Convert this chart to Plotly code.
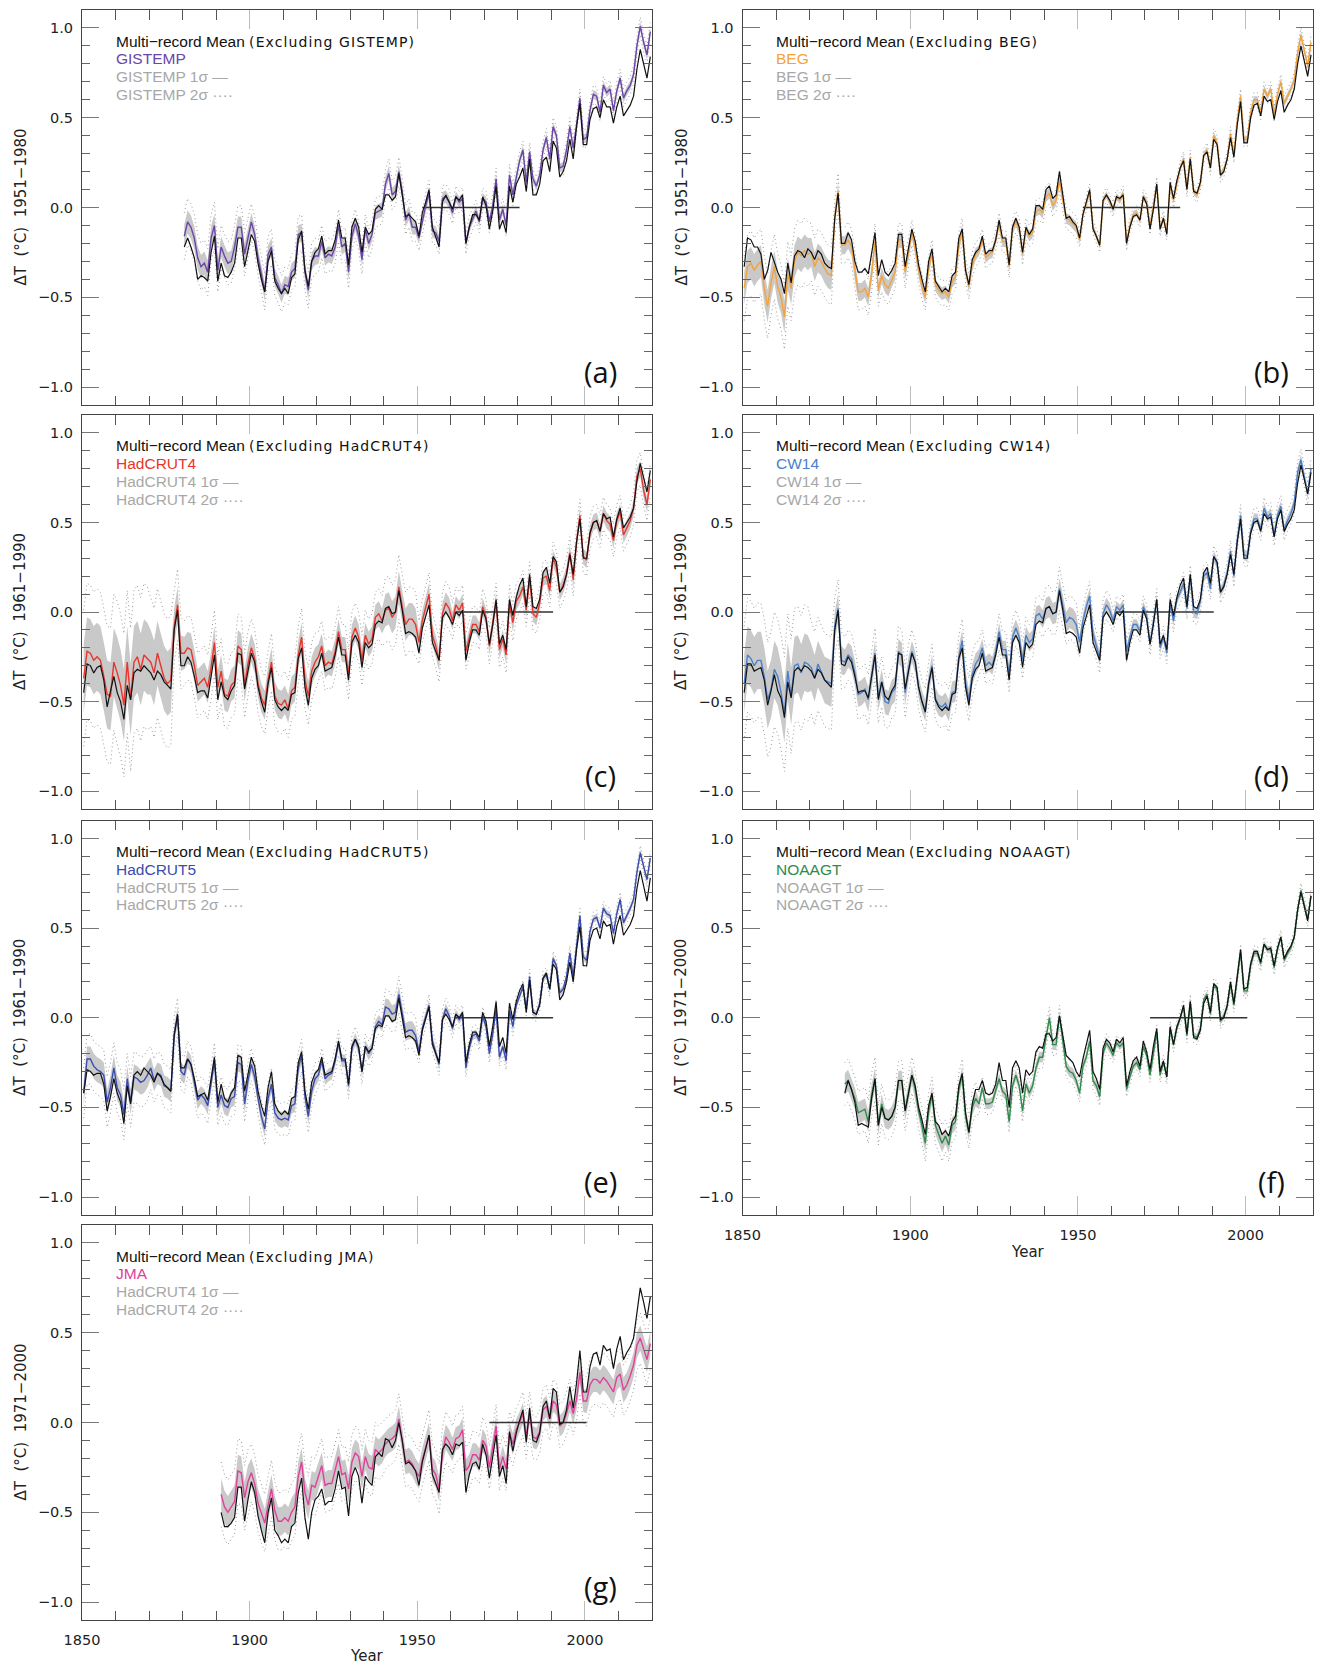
import numpy as np
import plotly.graph_objects as go

# ---------------------------------------------------------------- data
# (a) GISTEMP, 1880-2019, anomaly w.r.t. 1951-1980
GISTEMP = [
    -0.16, -0.08, -0.11, -0.17, -0.28, -0.33, -0.31, -0.36, -0.17, -0.10,
    -0.35, -0.22, -0.27, -0.31, -0.30, -0.22, -0.11, -0.11, -0.26, -0.17,
    -0.08, -0.15, -0.28, -0.37, -0.47, -0.26, -0.22, -0.39, -0.43, -0.48,
    -0.43, -0.44, -0.36, -0.34, -0.15, -0.14, -0.36, -0.46, -0.30, -0.27,
    -0.27, -0.19, -0.28, -0.26, -0.27, -0.22, -0.10, -0.22, -0.20, -0.36,
    -0.16, -0.09, -0.16, -0.29, -0.12, -0.20, -0.15, -0.03, -0.02, -0.01,
    0.13, 0.19, 0.07, 0.09, 0.20, 0.09, -0.07, -0.03, -0.11, -0.11,
    -0.17, -0.07, 0.01, 0.08, -0.13, -0.14, -0.19, 0.05, 0.06, 0.03,
    -0.03, 0.06, 0.03, 0.05, -0.20, -0.11, -0.06, -0.02, -0.08, 0.05,
    0.03, -0.08, 0.01, 0.16, -0.07, -0.01, -0.10, 0.18, 0.07, 0.16,
    0.26, 0.32, 0.14, 0.31, 0.16, 0.12, 0.18, 0.32, 0.39, 0.27,
    0.45, 0.40, 0.22, 0.23, 0.32, 0.45, 0.33, 0.46, 0.61, 0.38,
    0.39, 0.54, 0.63, 0.62, 0.53, 0.68, 0.64, 0.66, 0.54, 0.65,
    0.72, 0.61, 0.65, 0.68, 0.74, 0.90, 1.01, 0.92, 0.85, 0.98]
MEAN_A = [
    -0.22, -0.17, -0.22, -0.28, -0.40, -0.38, -0.39, -0.41, -0.25, -0.16,
    -0.41, -0.31, -0.38, -0.39, -0.36, -0.31, -0.17, -0.17, -0.33, -0.24,
    -0.15, -0.19, -0.31, -0.40, -0.47, -0.30, -0.24, -0.41, -0.45, -0.48,
    -0.45, -0.48, -0.39, -0.37, -0.18, -0.13, -0.35, -0.44, -0.30, -0.25,
    -0.23, -0.16, -0.26, -0.24, -0.24, -0.18, -0.07, -0.17, -0.17, -0.32,
    -0.11, -0.06, -0.11, -0.25, -0.11, -0.15, -0.13, -0.01, 0.01, -0.01,
    0.07, 0.07, 0.04, 0.06, 0.19, 0.07, -0.05, -0.04, -0.06, -0.08,
    -0.16, -0.03, 0.03, 0.10, -0.11, -0.17, -0.22, 0.03, 0.07, 0.03,
    -0.01, 0.06, 0.04, 0.07, -0.20, -0.11, -0.04, -0.04, -0.07, 0.06,
    0.01, -0.12, -0.02, 0.12, -0.12, -0.07, -0.14, 0.12, 0.03, 0.13,
    0.17, 0.22, 0.09, 0.27, 0.07, 0.07, 0.13, 0.26, 0.28, 0.20,
    0.37, 0.33, 0.17, 0.20, 0.26, 0.38, 0.27, 0.45, 0.58, 0.35,
    0.35, 0.49, 0.55, 0.56, 0.50, 0.60, 0.56, 0.56, 0.47, 0.56,
    0.62, 0.51, 0.54, 0.57, 0.62, 0.77, 0.88, 0.80, 0.72, 0.84]
SIG_A = [
    0.065, 0.065, 0.065, 0.065, 0.065, 0.065, 0.065, 0.065, 0.065, 0.065,
    0.06, 0.06, 0.06, 0.06, 0.06, 0.06, 0.06, 0.06, 0.06, 0.06,
    0.05, 0.05, 0.05, 0.05, 0.05, 0.05, 0.05, 0.05, 0.05, 0.05,
    0.05, 0.05, 0.05, 0.05, 0.05, 0.05, 0.05, 0.05, 0.05, 0.05,
    0.045, 0.045, 0.045, 0.045, 0.045, 0.045, 0.045, 0.045, 0.045, 0.045,
    0.04, 0.04, 0.04, 0.04, 0.04, 0.04, 0.04, 0.04, 0.04, 0.04,
    0.04, 0.04, 0.04, 0.04, 0.04, 0.04, 0.04, 0.04, 0.04, 0.04,
    0.035, 0.035, 0.035, 0.035, 0.035, 0.035, 0.035, 0.035, 0.035, 0.035,
    0.03, 0.03, 0.03, 0.03, 0.03, 0.03, 0.03, 0.03, 0.03, 0.03,
    0.03, 0.03, 0.03, 0.03, 0.03, 0.03, 0.03, 0.03, 0.03, 0.03,
    0.025, 0.025, 0.025, 0.025, 0.025, 0.025, 0.025, 0.025, 0.025, 0.025,
    0.025, 0.025, 0.025, 0.025, 0.025, 0.025, 0.025, 0.025, 0.025, 0.025,
    0.025, 0.025, 0.025, 0.025, 0.025, 0.025, 0.025, 0.025, 0.025, 0.025,
    0.025, 0.025, 0.025, 0.025, 0.025, 0.025, 0.025, 0.025, 0.025, 0.025]

# (b) BEG, 1850-2019, w.r.t. 1951-1980
BEG = [
    -0.45, -0.33, -0.31, -0.35, -0.32, -0.30, -0.45, -0.55, -0.42, -0.33,
    -0.44, -0.50, -0.61, -0.37, -0.45, -0.30, -0.25, -0.27, -0.24, -0.26,
    -0.25, -0.33, -0.28, -0.30, -0.34, -0.37, -0.38, -0.06, 0.09, -0.21,
    -0.21, -0.18, -0.22, -0.36, -0.47, -0.47, -0.45, -0.50, -0.37, -0.19,
    -0.46, -0.38, -0.43, -0.45, -0.40, -0.36, -0.18, -0.18, -0.36, -0.25,
    -0.14, -0.23, -0.35, -0.44, -0.50, -0.34, -0.25, -0.43, -0.46, -0.48,
    -0.47, -0.50, -0.41, -0.39, -0.21, -0.13, -0.35, -0.44, -0.32, -0.26,
    -0.24, -0.18, -0.28, -0.26, -0.25, -0.18, -0.09, -0.19, -0.19, -0.33,
    -0.12, -0.08, -0.12, -0.26, -0.12, -0.16, -0.14, -0.02, -0.01, -0.03,
    0.06, 0.08, 0.01, 0.04, 0.15, 0.04, -0.06, -0.07, -0.09, -0.11,
    -0.18, -0.04, 0.02, 0.09, -0.11, -0.16, -0.21, 0.04, 0.07, 0.03,
    -0.01, 0.06, 0.04, 0.08, -0.20, -0.10, -0.04, -0.03, -0.07, 0.06,
    0.03, -0.11, 0.00, 0.13, -0.12, -0.06, -0.14, 0.13, 0.04, 0.14,
    0.22, 0.27, 0.10, 0.28, 0.09, 0.07, 0.13, 0.29, 0.32, 0.22,
    0.40, 0.36, 0.18, 0.21, 0.27, 0.41, 0.29, 0.48, 0.62, 0.38,
    0.38, 0.53, 0.60, 0.60, 0.53, 0.66, 0.62, 0.66, 0.52, 0.63,
    0.70, 0.58, 0.62, 0.66, 0.71, 0.86, 0.96, 0.88, 0.79, 0.92]
MEAN_B = [
    -0.33, -0.17, -0.18, -0.22, -0.22, -0.26, -0.40, -0.35, -0.25, -0.31,
    -0.36, -0.40, -0.48, -0.31, -0.42, -0.27, -0.24, -0.25, -0.28, -0.23,
    -0.25, -0.29, -0.24, -0.26, -0.31, -0.33, -0.34, -0.06, 0.08, -0.20,
    -0.20, -0.14, -0.18, -0.30, -0.36, -0.36, -0.34, -0.37, -0.25, -0.14,
    -0.38, -0.29, -0.36, -0.38, -0.35, -0.31, -0.15, -0.15, -0.33, -0.23,
    -0.12, -0.19, -0.32, -0.40, -0.47, -0.30, -0.23, -0.41, -0.44, -0.47,
    -0.45, -0.47, -0.38, -0.36, -0.17, -0.12, -0.35, -0.43, -0.29, -0.25,
    -0.23, -0.16, -0.26, -0.24, -0.24, -0.18, -0.07, -0.17, -0.17, -0.32,
    -0.11, -0.06, -0.11, -0.25, -0.11, -0.15, -0.12, 0.01, 0.01, -0.01,
    0.10, 0.12, 0.05, 0.07, 0.20, 0.07, -0.06, -0.05, -0.08, -0.10,
    -0.17, -0.04, 0.03, 0.10, -0.12, -0.16, -0.21, 0.04, 0.07, 0.04,
    -0.01, 0.06, 0.05, 0.07, -0.20, -0.11, -0.05, -0.04, -0.07, 0.06,
    0.02, -0.12, -0.01, 0.13, -0.12, -0.06, -0.15, 0.14, 0.05, 0.15,
    0.22, 0.26, 0.10, 0.27, 0.09, 0.08, 0.14, 0.29, 0.31, 0.22,
    0.38, 0.35, 0.18, 0.20, 0.27, 0.39, 0.28, 0.46, 0.59, 0.36,
    0.36, 0.50, 0.57, 0.58, 0.51, 0.62, 0.59, 0.60, 0.49, 0.59,
    0.65, 0.53, 0.57, 0.60, 0.66, 0.80, 0.90, 0.82, 0.73, 0.85]
SIG_B = [
    0.09, 0.09, 0.09, 0.09, 0.09, 0.09, 0.09, 0.09, 0.09, 0.09,
    0.09, 0.09, 0.09, 0.09, 0.09, 0.09, 0.09, 0.09, 0.09, 0.09,
    0.08, 0.08, 0.08, 0.08, 0.08, 0.08, 0.08, 0.05, 0.05, 0.05,
    0.05, 0.05, 0.05, 0.05, 0.05, 0.05, 0.05, 0.05, 0.05, 0.05,
    0.045, 0.045, 0.045, 0.045, 0.045, 0.045, 0.045, 0.045, 0.045, 0.045,
    0.035, 0.035, 0.035, 0.035, 0.035, 0.035, 0.035, 0.035, 0.035, 0.035,
    0.035, 0.035, 0.035, 0.035, 0.035, 0.035, 0.035, 0.035, 0.035, 0.035,
    0.03, 0.03, 0.03, 0.03, 0.03, 0.03, 0.03, 0.03, 0.03, 0.03,
    0.03, 0.03, 0.03, 0.03, 0.03, 0.03, 0.03, 0.03, 0.03, 0.03,
    0.03, 0.03, 0.03, 0.03, 0.03, 0.03, 0.03, 0.03, 0.03, 0.03,
    0.02, 0.02, 0.02, 0.02, 0.02, 0.02, 0.02, 0.02, 0.02, 0.02,
    0.02, 0.02, 0.02, 0.02, 0.02, 0.02, 0.02, 0.02, 0.02, 0.02,
    0.02, 0.02, 0.02, 0.02, 0.02, 0.02, 0.02, 0.02, 0.02, 0.02,
    0.02, 0.02, 0.02, 0.02, 0.02, 0.02, 0.02, 0.02, 0.02, 0.02,
    0.02, 0.02, 0.02, 0.02, 0.02, 0.02, 0.02, 0.02, 0.02, 0.02,
    0.02, 0.02, 0.02, 0.02, 0.02, 0.02, 0.02, 0.02, 0.02, 0.02,
    0.02, 0.02, 0.02, 0.02, 0.02, 0.02, 0.02, 0.02, 0.02, 0.02]

# (c) HadCRUT4, 1850-2019, w.r.t. 1961-1990
HADCRUT4 = [
    -0.37, -0.22, -0.23, -0.27, -0.25, -0.27, -0.36, -0.46, -0.47, -0.28,
    -0.34, -0.41, -0.52, -0.28, -0.49, -0.28, -0.25, -0.32, -0.24, -0.26,
    -0.28, -0.34, -0.23, -0.30, -0.37, -0.40, -0.38, -0.08, 0.04, -0.23,
    -0.23, -0.20, -0.21, -0.30, -0.41, -0.39, -0.37, -0.42, -0.31, -0.17,
    -0.42, -0.33, -0.46, -0.47, -0.41, -0.39, -0.19, -0.21, -0.41, -0.29,
    -0.20, -0.26, -0.40, -0.48, -0.52, -0.38, -0.28, -0.47, -0.51, -0.52,
    -0.49, -0.54, -0.44, -0.42, -0.24, -0.14, -0.38, -0.47, -0.33, -0.28,
    -0.25, -0.19, -0.30, -0.28, -0.29, -0.22, -0.11, -0.21, -0.21, -0.35,
    -0.14, -0.09, -0.14, -0.27, -0.13, -0.18, -0.15, -0.03, -0.01, -0.05,
    0.01, 0.02, -0.03, 0.00, 0.14, 0.03, -0.07, -0.04, -0.04, -0.07,
    -0.17, -0.05, 0.03, 0.10, -0.13, -0.19, -0.27, -0.01, 0.05, 0.02,
    -0.05, 0.04, 0.01, 0.05, -0.22, -0.14, -0.07, -0.07, -0.11, 0.03,
    -0.03, -0.19, -0.07, 0.06, -0.21, -0.15, -0.24, 0.05, -0.06, 0.06,
    0.09, 0.14, 0.01, 0.19, -0.01, -0.03, 0.05, 0.19, 0.20, 0.12,
    0.30, 0.25, 0.11, 0.15, 0.21, 0.33, 0.18, 0.39, 0.54, 0.31,
    0.29, 0.44, 0.50, 0.51, 0.45, 0.55, 0.51, 0.49, 0.40, 0.51,
    0.56, 0.43, 0.47, 0.51, 0.58, 0.76, 0.80, 0.68, 0.60, 0.74]
MEAN_C = [
    -0.45, -0.29, -0.30, -0.34, -0.31, -0.30, -0.38, -0.53, -0.44, -0.36,
    -0.45, -0.50, -0.60, -0.41, -0.49, -0.34, -0.32, -0.33, -0.30, -0.32,
    -0.34, -0.38, -0.33, -0.35, -0.39, -0.41, -0.43, -0.10, 0.01, -0.30,
    -0.30, -0.25, -0.28, -0.36, -0.45, -0.44, -0.44, -0.48, -0.36, -0.24,
    -0.49, -0.39, -0.47, -0.49, -0.44, -0.41, -0.23, -0.24, -0.43, -0.33,
    -0.23, -0.28, -0.42, -0.50, -0.56, -0.40, -0.31, -0.49, -0.53, -0.55,
    -0.53, -0.55, -0.46, -0.45, -0.26, -0.20, -0.42, -0.52, -0.37, -0.32,
    -0.30, -0.23, -0.33, -0.32, -0.31, -0.24, -0.14, -0.24, -0.24, -0.38,
    -0.17, -0.13, -0.17, -0.31, -0.17, -0.20, -0.18, -0.07, -0.05, -0.06,
    0.02, 0.03, -0.01, 0.00, 0.12, 0.01, -0.12, -0.11, -0.12, -0.14,
    -0.23, -0.09, -0.03, 0.04, -0.17, -0.22, -0.27, -0.03, 0.00, -0.03,
    -0.07, 0.00, -0.02, 0.01, -0.27, -0.17, -0.10, -0.10, -0.13, 0.01,
    -0.04, -0.18, -0.07, 0.07, -0.18, -0.13, -0.21, 0.07, -0.02, 0.08,
    0.15, 0.19, 0.03, 0.21, 0.03, 0.02, 0.07, 0.22, 0.25, 0.16,
    0.31, 0.28, 0.11, 0.14, 0.21, 0.32, 0.21, 0.39, 0.52, 0.30,
    0.30, 0.44, 0.50, 0.51, 0.45, 0.55, 0.52, 0.53, 0.42, 0.52,
    0.58, 0.47, 0.50, 0.53, 0.58, 0.73, 0.83, 0.75, 0.67, 0.79]
SIG_C = [
    0.19, 0.19, 0.19, 0.19, 0.19, 0.19, 0.19, 0.19, 0.19, 0.19,
    0.20, 0.20, 0.20, 0.20, 0.20, 0.20, 0.20, 0.20, 0.20, 0.20,
    0.18, 0.18, 0.18, 0.18, 0.18, 0.18, 0.18, 0.10, 0.10, 0.10,
    0.09, 0.09, 0.09, 0.09, 0.09, 0.09, 0.09, 0.09, 0.09, 0.09,
    0.09, 0.09, 0.09, 0.09, 0.09, 0.09, 0.09, 0.09, 0.09, 0.09,
    0.08, 0.08, 0.08, 0.08, 0.08, 0.08, 0.08, 0.08, 0.08, 0.08,
    0.08, 0.08, 0.08, 0.08, 0.08, 0.08, 0.08, 0.08, 0.08, 0.08,
    0.07, 0.07, 0.07, 0.07, 0.07, 0.07, 0.07, 0.07, 0.07, 0.07,
    0.07, 0.07, 0.07, 0.07, 0.07, 0.07, 0.07, 0.07, 0.07, 0.07,
    0.09, 0.09, 0.09, 0.09, 0.09, 0.09, 0.09, 0.09, 0.09, 0.09,
    0.06, 0.06, 0.06, 0.06, 0.06, 0.06, 0.06, 0.06, 0.06, 0.06,
    0.05, 0.05, 0.05, 0.05, 0.05, 0.05, 0.05, 0.05, 0.05, 0.05,
    0.05, 0.05, 0.05, 0.05, 0.05, 0.05, 0.05, 0.05, 0.05, 0.05,
    0.045, 0.045, 0.045, 0.045, 0.045, 0.045, 0.045, 0.045, 0.045, 0.045,
    0.045, 0.045, 0.045, 0.045, 0.045, 0.045, 0.045, 0.045, 0.045, 0.045,
    0.045, 0.045, 0.045, 0.045, 0.045, 0.045, 0.045, 0.045, 0.045, 0.045,
    0.045, 0.045, 0.045, 0.045, 0.045, 0.045, 0.045, 0.045, 0.045, 0.045]

# (d) CW14, 1850-2019, w.r.t. 1961-1990
CW14 = [
    -0.40, -0.24, -0.26, -0.30, -0.27, -0.27, -0.36, -0.49, -0.43, -0.32,
    -0.36, -0.45, -0.57, -0.33, -0.47, -0.30, -0.29, -0.34, -0.28, -0.29,
    -0.31, -0.37, -0.29, -0.33, -0.38, -0.39, -0.40, -0.08, 0.02, -0.27,
    -0.28, -0.24, -0.26, -0.34, -0.46, -0.45, -0.43, -0.49, -0.37, -0.23,
    -0.48, -0.39, -0.50, -0.51, -0.45, -0.43, -0.22, -0.24, -0.45, -0.32,
    -0.22, -0.28, -0.42, -0.50, -0.55, -0.40, -0.30, -0.48, -0.52, -0.53,
    -0.51, -0.55, -0.45, -0.44, -0.25, -0.16, -0.39, -0.49, -0.35, -0.29,
    -0.26, -0.20, -0.30, -0.28, -0.30, -0.22, -0.11, -0.21, -0.21, -0.35,
    -0.14, -0.09, -0.14, -0.27, -0.13, -0.17, -0.15, -0.02, -0.01, -0.04,
    0.02, 0.03, -0.01, 0.00, 0.13, 0.03, -0.06, -0.03, -0.04, -0.07,
    -0.17, -0.05, 0.03, 0.09, -0.12, -0.19, -0.26, -0.01, 0.04, 0.01,
    -0.05, 0.03, 0.01, 0.04, -0.22, -0.14, -0.07, -0.07, -0.11, 0.03,
    -0.02, -0.18, -0.06, 0.07, -0.20, -0.14, -0.23, 0.05, -0.05, 0.07,
    0.11, 0.16, 0.02, 0.20, 0.00, -0.01, 0.06, 0.20, 0.22, 0.13,
    0.31, 0.27, 0.11, 0.15, 0.22, 0.34, 0.20, 0.40, 0.54, 0.32,
    0.31, 0.45, 0.52, 0.52, 0.46, 0.58, 0.53, 0.55, 0.43, 0.54,
    0.59, 0.46, 0.51, 0.55, 0.61, 0.78, 0.85, 0.75, 0.66, 0.80]
MEAN_D = [
    -0.45, -0.29, -0.29, -0.33, -0.32, -0.31, -0.38, -0.52, -0.44, -0.35,
    -0.44, -0.48, -0.59, -0.39, -0.48, -0.33, -0.31, -0.33, -0.30, -0.31,
    -0.33, -0.37, -0.32, -0.34, -0.38, -0.40, -0.42, -0.10, 0.01, -0.29,
    -0.30, -0.25, -0.28, -0.36, -0.45, -0.44, -0.44, -0.48, -0.36, -0.24,
    -0.49, -0.39, -0.47, -0.49, -0.44, -0.41, -0.23, -0.24, -0.43, -0.33,
    -0.23, -0.28, -0.42, -0.50, -0.56, -0.40, -0.31, -0.49, -0.53, -0.55,
    -0.53, -0.55, -0.46, -0.45, -0.26, -0.20, -0.42, -0.52, -0.37, -0.32,
    -0.30, -0.23, -0.33, -0.32, -0.31, -0.24, -0.14, -0.24, -0.24, -0.38,
    -0.17, -0.13, -0.17, -0.31, -0.17, -0.20, -0.18, -0.07, -0.05, -0.06,
    0.02, 0.03, -0.01, 0.00, 0.12, 0.01, -0.12, -0.11, -0.12, -0.14,
    -0.23, -0.09, -0.03, 0.04, -0.17, -0.22, -0.27, -0.03, 0.00, -0.03,
    -0.07, 0.00, -0.02, 0.01, -0.27, -0.17, -0.10, -0.10, -0.13, 0.01,
    -0.04, -0.18, -0.07, 0.07, -0.18, -0.13, -0.21, 0.07, -0.02, 0.08,
    0.15, 0.19, 0.03, 0.21, 0.03, 0.02, 0.07, 0.22, 0.25, 0.16,
    0.31, 0.28, 0.11, 0.14, 0.21, 0.32, 0.21, 0.39, 0.52, 0.30,
    0.30, 0.44, 0.50, 0.51, 0.45, 0.55, 0.52, 0.53, 0.42, 0.52,
    0.57, 0.45, 0.49, 0.52, 0.57, 0.72, 0.82, 0.74, 0.66, 0.78]
SIG_D = [
    0.16, 0.16, 0.16, 0.16, 0.16, 0.16, 0.16, 0.16, 0.16, 0.16,
    0.16, 0.16, 0.16, 0.16, 0.16, 0.16, 0.16, 0.16, 0.16, 0.16,
    0.13, 0.13, 0.13, 0.13, 0.13, 0.13, 0.13, 0.08, 0.08, 0.08,
    0.07, 0.07, 0.07, 0.07, 0.07, 0.07, 0.07, 0.07, 0.07, 0.07,
    0.07, 0.07, 0.07, 0.07, 0.07, 0.07, 0.07, 0.07, 0.07, 0.07,
    0.06, 0.06, 0.06, 0.06, 0.06, 0.06, 0.06, 0.06, 0.06, 0.06,
    0.06, 0.06, 0.06, 0.06, 0.06, 0.06, 0.06, 0.06, 0.06, 0.06,
    0.05, 0.05, 0.05, 0.05, 0.05, 0.05, 0.05, 0.05, 0.05, 0.05,
    0.05, 0.05, 0.05, 0.05, 0.05, 0.05, 0.05, 0.05, 0.05, 0.05,
    0.06, 0.06, 0.06, 0.06, 0.06, 0.06, 0.06, 0.06, 0.06, 0.06,
    0.04, 0.04, 0.04, 0.04, 0.04, 0.04, 0.04, 0.04, 0.04, 0.04,
    0.03, 0.03, 0.03, 0.03, 0.03, 0.03, 0.03, 0.03, 0.03, 0.03,
    0.03, 0.03, 0.03, 0.03, 0.03, 0.03, 0.03, 0.03, 0.03, 0.03,
    0.03, 0.03, 0.03, 0.03, 0.03, 0.03, 0.03, 0.03, 0.03, 0.03,
    0.03, 0.03, 0.03, 0.03, 0.03, 0.03, 0.03, 0.03, 0.03, 0.03,
    0.03, 0.03, 0.03, 0.03, 0.03, 0.03, 0.03, 0.03, 0.03, 0.03,
    0.03, 0.03, 0.03, 0.03, 0.03, 0.03, 0.03, 0.03, 0.03, 0.03]

# (e) HadCRUT5, 1850-2019, w.r.t. 1961-1990
HADCRUT5 = [
    -0.42, -0.23, -0.23, -0.27, -0.29, -0.30, -0.32, -0.47, -0.39, -0.28,
    -0.39, -0.43, -0.54, -0.34, -0.47, -0.33, -0.34, -0.36, -0.35, -0.32,
    -0.28, -0.35, -0.31, -0.32, -0.38, -0.39, -0.41, -0.09, 0.01, -0.30,
    -0.32, -0.23, -0.26, -0.37, -0.46, -0.43, -0.45, -0.49, -0.36, -0.24,
    -0.50, -0.43, -0.49, -0.50, -0.45, -0.44, -0.25, -0.26, -0.48, -0.35,
    -0.26, -0.33, -0.45, -0.55, -0.62, -0.45, -0.37, -0.53, -0.56, -0.57,
    -0.56, -0.57, -0.49, -0.48, -0.28, -0.21, -0.44, -0.55, -0.41, -0.34,
    -0.32, -0.24, -0.34, -0.32, -0.31, -0.24, -0.14, -0.24, -0.24, -0.38,
    -0.17, -0.12, -0.17, -0.30, -0.16, -0.20, -0.17, -0.05, -0.02, -0.04,
    0.06, 0.05, 0.02, 0.03, 0.13, 0.02, -0.08, -0.07, -0.07, -0.10,
    -0.19, -0.06, 0.01, 0.07, -0.13, -0.20, -0.26, -0.01, 0.05, 0.01,
    -0.06, 0.02, -0.01, 0.02, -0.28, -0.17, -0.10, -0.09, -0.13, 0.01,
    -0.05, -0.20, -0.09, 0.05, -0.22, -0.16, -0.24, 0.04, -0.05, 0.07,
    0.12, 0.17, 0.05, 0.23, 0.03, 0.02, 0.08, 0.22, 0.24, 0.16,
    0.33, 0.29, 0.14, 0.16, 0.23, 0.36, 0.23, 0.42, 0.57, 0.34,
    0.32, 0.48, 0.55, 0.56, 0.50, 0.61, 0.58, 0.57, 0.47, 0.58,
    0.66, 0.53, 0.57, 0.61, 0.66, 0.81, 0.92, 0.84, 0.77, 0.89]
MEAN_E = [
    -0.42, -0.29, -0.30, -0.32, -0.31, -0.31, -0.37, -0.52, -0.44, -0.34,
    -0.42, -0.47, -0.59, -0.38, -0.48, -0.32, -0.30, -0.32, -0.28, -0.30,
    -0.32, -0.36, -0.31, -0.33, -0.37, -0.39, -0.41, -0.10, 0.02, -0.28,
    -0.28, -0.23, -0.26, -0.34, -0.44, -0.43, -0.42, -0.46, -0.34, -0.22,
    -0.47, -0.37, -0.45, -0.47, -0.42, -0.39, -0.21, -0.22, -0.41, -0.31,
    -0.22, -0.27, -0.41, -0.49, -0.55, -0.39, -0.30, -0.48, -0.52, -0.54,
    -0.52, -0.54, -0.45, -0.44, -0.25, -0.19, -0.41, -0.51, -0.36, -0.31,
    -0.29, -0.22, -0.32, -0.31, -0.30, -0.23, -0.13, -0.23, -0.23, -0.37,
    -0.16, -0.12, -0.16, -0.30, -0.16, -0.19, -0.17, -0.06, -0.04, -0.05,
    0.01, 0.01, -0.02, -0.01, 0.11, 0.00, -0.11, -0.10, -0.11, -0.13,
    -0.21, -0.07, -0.01, 0.06, -0.15, -0.20, -0.25, -0.01, 0.02, -0.01,
    -0.05, 0.02, 0.00, 0.03, -0.25, -0.15, -0.08, -0.08, -0.11, 0.03,
    -0.02, -0.16, -0.05, 0.09, -0.16, -0.11, -0.20, 0.08, -0.01, 0.09,
    0.15, 0.19, 0.03, 0.21, 0.03, 0.02, 0.07, 0.22, 0.25, 0.16,
    0.30, 0.27, 0.10, 0.13, 0.20, 0.31, 0.20, 0.38, 0.51, 0.29,
    0.29, 0.43, 0.49, 0.50, 0.44, 0.54, 0.51, 0.52, 0.41, 0.51,
    0.57, 0.46, 0.49, 0.52, 0.57, 0.72, 0.82, 0.74, 0.65, 0.78]
SIG_E = [
    0.07, 0.07, 0.07, 0.07, 0.07, 0.07, 0.07, 0.07, 0.07, 0.07,
    0.07, 0.07, 0.07, 0.07, 0.07, 0.07, 0.07, 0.07, 0.07, 0.07,
    0.06, 0.06, 0.06, 0.06, 0.06, 0.06, 0.06, 0.05, 0.05, 0.05,
    0.05, 0.05, 0.05, 0.05, 0.05, 0.05, 0.05, 0.05, 0.05, 0.05,
    0.05, 0.05, 0.05, 0.05, 0.05, 0.05, 0.05, 0.05, 0.05, 0.05,
    0.045, 0.045, 0.045, 0.045, 0.045, 0.045, 0.045, 0.045, 0.045, 0.045,
    0.045, 0.045, 0.045, 0.045, 0.045, 0.045, 0.045, 0.045, 0.045, 0.045,
    0.035, 0.035, 0.035, 0.035, 0.035, 0.035, 0.035, 0.035, 0.035, 0.035,
    0.035, 0.035, 0.035, 0.035, 0.035, 0.035, 0.035, 0.035, 0.035, 0.035,
    0.05, 0.05, 0.05, 0.05, 0.05, 0.05, 0.05, 0.05, 0.05, 0.05,
    0.03, 0.03, 0.03, 0.03, 0.03, 0.03, 0.03, 0.03, 0.03, 0.03,
    0.025, 0.025, 0.025, 0.025, 0.025, 0.025, 0.025, 0.025, 0.025, 0.025,
    0.025, 0.025, 0.025, 0.025, 0.025, 0.025, 0.025, 0.025, 0.025, 0.025,
    0.02, 0.02, 0.02, 0.02, 0.02, 0.02, 0.02, 0.02, 0.02, 0.02,
    0.02, 0.02, 0.02, 0.02, 0.02, 0.02, 0.02, 0.02, 0.02, 0.02,
    0.02, 0.02, 0.02, 0.02, 0.02, 0.02, 0.02, 0.02, 0.02, 0.02,
    0.02, 0.02, 0.02, 0.02, 0.02, 0.02, 0.02, 0.02, 0.02, 0.02]

# (f) NOAAGT, 1880-2019, w.r.t. 1971-2000
NOAAGT = [
    -0.37, -0.35, -0.40, -0.45, -0.53, -0.52, -0.51, -0.58, -0.43, -0.34,
    -0.60, -0.48, -0.56, -0.57, -0.55, -0.50, -0.35, -0.35, -0.52, -0.42,
    -0.32, -0.40, -0.52, -0.60, -0.70, -0.52, -0.43, -0.60, -0.65, -0.70,
    -0.66, -0.71, -0.60, -0.58, -0.40, -0.32, -0.55, -0.64, -0.50, -0.45,
    -0.48, -0.39, -0.48, -0.48, -0.47, -0.40, -0.34, -0.41, -0.43, -0.58,
    -0.38, -0.32, -0.38, -0.52, -0.37, -0.42, -0.38, -0.28, -0.22, -0.22,
    -0.12, 0.00, -0.15, -0.15, 0.01, -0.13, -0.27, -0.30, -0.31, -0.35,
    -0.42, -0.27, -0.22, -0.13, -0.35, -0.38, -0.44, -0.20, -0.14, -0.17,
    -0.21, -0.14, -0.16, -0.14, -0.40, -0.33, -0.27, -0.25, -0.29, -0.16,
    -0.21, -0.32, -0.21, -0.08, -0.32, -0.25, -0.33, -0.06, -0.15, -0.06,
    0.00, 0.06, -0.10, 0.09, -0.10, -0.11, -0.06, 0.10, 0.13, 0.02,
    0.18, 0.16, -0.02, 0.01, 0.06, 0.19, 0.07, 0.23, 0.37, 0.15,
    0.15, 0.29, 0.36, 0.36, 0.30, 0.41, 0.38, 0.38, 0.28, 0.38,
    0.45, 0.32, 0.36, 0.39, 0.45, 0.60, 0.71, 0.63, 0.55, 0.68]
MEAN_F = [
    -0.42, -0.35, -0.40, -0.47, -0.60, -0.59, -0.60, -0.61, -0.45, -0.34,
    -0.60, -0.50, -0.56, -0.57, -0.55, -0.50, -0.35, -0.35, -0.52, -0.42,
    -0.32, -0.38, -0.50, -0.57, -0.65, -0.49, -0.42, -0.58, -0.60, -0.65,
    -0.63, -0.66, -0.58, -0.55, -0.38, -0.31, -0.53, -0.64, -0.48, -0.40,
    -0.40, -0.35, -0.42, -0.43, -0.42, -0.37, -0.25, -0.35, -0.35, -0.50,
    -0.28, -0.24, -0.28, -0.42, -0.29, -0.32, -0.30, -0.19, -0.16, -0.17,
    -0.09, -0.09, -0.13, -0.11, 0.01, -0.10, -0.21, -0.23, -0.25, -0.30,
    -0.33, -0.23, -0.15, -0.07, -0.30, -0.34, -0.40, -0.17, -0.12, -0.14,
    -0.19, -0.12, -0.14, -0.11, -0.38, -0.30, -0.24, -0.22, -0.27, -0.13,
    -0.19, -0.29, -0.16, -0.06, -0.30, -0.24, -0.33, -0.05, -0.15, -0.05,
    0.00, 0.07, -0.09, 0.09, -0.11, -0.12, -0.07, 0.08, 0.12, 0.03,
    0.19, 0.17, -0.01, 0.00, 0.07, 0.20, 0.08, 0.22, 0.38, 0.16,
    0.17, 0.30, 0.37, 0.37, 0.31, 0.41, 0.38, 0.39, 0.29, 0.39,
    0.45, 0.33, 0.37, 0.40, 0.45, 0.60, 0.70, 0.62, 0.54, 0.68]
SIG_F = [
    0.06, 0.06, 0.06, 0.06, 0.06, 0.06, 0.06, 0.06, 0.06, 0.06,
    0.055, 0.055, 0.055, 0.055, 0.055, 0.055, 0.055, 0.055, 0.055, 0.055,
    0.05, 0.05, 0.05, 0.05, 0.05, 0.05, 0.05, 0.05, 0.05, 0.05,
    0.045, 0.045, 0.045, 0.045, 0.045, 0.045, 0.045, 0.045, 0.045, 0.045,
    0.03, 0.03, 0.03, 0.03, 0.03, 0.03, 0.03, 0.03, 0.03, 0.03,
    0.03, 0.03, 0.03, 0.03, 0.03, 0.03, 0.03, 0.03, 0.03, 0.03,
    0.03, 0.03, 0.03, 0.03, 0.03, 0.03, 0.03, 0.03, 0.03, 0.03,
    0.025, 0.025, 0.025, 0.025, 0.025, 0.025, 0.025, 0.025, 0.025, 0.025,
    0.02, 0.02, 0.02, 0.02, 0.02, 0.02, 0.02, 0.02, 0.02, 0.02,
    0.02, 0.02, 0.02, 0.02, 0.02, 0.02, 0.02, 0.02, 0.02, 0.02,
    0.02, 0.02, 0.02, 0.02, 0.02, 0.02, 0.02, 0.02, 0.02, 0.02,
    0.02, 0.02, 0.02, 0.02, 0.02, 0.02, 0.02, 0.02, 0.02, 0.02,
    0.02, 0.02, 0.02, 0.02, 0.02, 0.02, 0.02, 0.02, 0.02, 0.02,
    0.02, 0.02, 0.02, 0.02, 0.02, 0.02, 0.02, 0.02, 0.02, 0.02]

# (g) JMA, 1891-2019, w.r.t. 1971-2000
JMA = [
    -0.40, -0.47, -0.50, -0.47, -0.44, -0.27, -0.28, -0.42, -0.33,
    -0.28, -0.34, -0.45, -0.51, -0.56, -0.46, -0.37, -0.49, -0.55, -0.55,
    -0.53, -0.55, -0.50, -0.47, -0.30, -0.22, -0.39, -0.46, -0.35, -0.36,
    -0.30, -0.24, -0.35, -0.34, -0.34, -0.27, -0.19, -0.29, -0.28, -0.37,
    -0.22, -0.17, -0.19, -0.30, -0.19, -0.25, -0.26, -0.15, -0.17, -0.15,
    -0.12, -0.10, -0.09, -0.07, 0.02, -0.10, -0.22, -0.21, -0.23, -0.27,
    -0.30, -0.21, -0.14, -0.07, -0.26, -0.29, -0.37, -0.17, -0.08, -0.11,
    -0.15, -0.09, -0.08, -0.04, -0.27, -0.24, -0.18, -0.18, -0.21, -0.10,
    -0.13, -0.25, -0.14, -0.02, -0.26, -0.19, -0.26, -0.06, -0.12, -0.04,
    0.00, 0.05, -0.08, 0.05, -0.08, -0.09, -0.05, 0.07, 0.09, 0.02,
    0.12, 0.10, -0.02, 0.00, 0.05, 0.12, 0.05, 0.13, 0.28, 0.12,
    0.12, 0.21, 0.24, 0.24, 0.22, 0.25, 0.23, 0.20, 0.17, 0.25,
    0.27, 0.18, 0.21, 0.26, 0.32, 0.43, 0.47, 0.41, 0.35, 0.44]
MEAN_G = [
    -0.50, -0.58, -0.58, -0.56, -0.53, -0.36, -0.36, -0.55, -0.43,
    -0.33, -0.39, -0.52, -0.60, -0.67, -0.50, -0.42, -0.60, -0.63, -0.67,
    -0.65, -0.67, -0.58, -0.56, -0.39, -0.31, -0.53, -0.65, -0.50, -0.43,
    -0.41, -0.37, -0.46, -0.44, -0.44, -0.37, -0.27, -0.37, -0.36, -0.52,
    -0.30, -0.25, -0.30, -0.45, -0.30, -0.33, -0.35, -0.19, -0.17, -0.19,
    -0.09, -0.10, -0.14, -0.10, 0.00, -0.10, -0.23, -0.22, -0.24, -0.27,
    -0.35, -0.22, -0.15, -0.07, -0.29, -0.34, -0.39, -0.15, -0.12, -0.14,
    -0.18, -0.12, -0.13, -0.11, -0.39, -0.29, -0.23, -0.22, -0.26, -0.12,
    -0.18, -0.31, -0.20, -0.07, -0.30, -0.24, -0.34, -0.05, -0.16, -0.06,
    0.01, 0.07, -0.11, 0.08, -0.10, -0.11, -0.06, 0.09, 0.12, 0.02,
    0.19, 0.17, -0.01, 0.00, 0.07, 0.20, 0.08, 0.22, 0.40, 0.17,
    0.17, 0.31, 0.38, 0.39, 0.32, 0.43, 0.40, 0.41, 0.30, 0.41,
    0.48, 0.35, 0.39, 0.42, 0.47, 0.62, 0.75, 0.67, 0.58, 0.70]
SIG_G = [
    0.09, 0.09, 0.09, 0.09, 0.09, 0.09, 0.09, 0.09, 0.09,
    0.08, 0.08, 0.08, 0.08, 0.08, 0.08, 0.08, 0.08, 0.08, 0.08,
    0.08, 0.08, 0.08, 0.08, 0.08, 0.08, 0.08, 0.08, 0.08, 0.08,
    0.075, 0.075, 0.075, 0.075, 0.075, 0.075, 0.075, 0.075, 0.075, 0.075,
    0.075, 0.075, 0.075, 0.075, 0.075, 0.075, 0.075, 0.075, 0.075, 0.075,
    0.07, 0.07, 0.07, 0.07, 0.07, 0.07, 0.07, 0.07, 0.07, 0.07,
    0.07, 0.07, 0.07, 0.07, 0.07, 0.07, 0.07, 0.07, 0.07, 0.07,
    0.065, 0.065, 0.065, 0.065, 0.065, 0.065, 0.065, 0.065, 0.065, 0.065,
    0.06, 0.06, 0.06, 0.06, 0.06, 0.06, 0.06, 0.06, 0.06, 0.06,
    0.06, 0.06, 0.06, 0.06, 0.06, 0.06, 0.06, 0.06, 0.06, 0.06,
    0.06, 0.06, 0.06, 0.06, 0.06, 0.06, 0.06, 0.06, 0.06, 0.06,
    0.07, 0.07, 0.07, 0.07, 0.07, 0.07, 0.07, 0.07, 0.07, 0.07,
    0.07, 0.07, 0.07, 0.07, 0.07, 0.07, 0.07, 0.07, 0.07, 0.07]

# panel meta: key, dataset, colour, first year, values, mean, sigma, baseline, sigma label
PANELS = [
    ("a", "GISTEMP", "#6b45a8", 1880, GISTEMP, MEAN_A, SIG_A, (1951, 1980), "GISTEMP"),
    ("b", "BEG", "#f4a23a", 1850, BEG, MEAN_B, SIG_B, (1951, 1980), "BEG"),
    ("c", "HadCRUT4", "#e8362c", 1850, HADCRUT4, MEAN_C, SIG_C, (1961, 1990), "HadCRUT4"),
    ("d", "CW14", "#4b7fc8", 1850, CW14, MEAN_D, SIG_D, (1961, 1990), "CW14"),
    ("e", "HadCRUT5", "#3a4cb0", 1850, HADCRUT5, MEAN_E, SIG_E, (1961, 1990), "HadCRUT5"),
    ("f", "NOAAGT", "#2e8b4a", 1880, NOAAGT, MEAN_F, SIG_F, (1971, 2000), "NOAAGT"),
    ("g", "JMA", "#e0409a", 1891, JMA, MEAN_G, SIG_G, (1971, 2000), "HadCRUT4"),
]

# ---------------------------------------------------------------- layout geometry
W, H = 1318, 1664
COLS = [(82 / W, 652 / W), (742.5 / W, 1312.7 / W)]
ROWS = [(1 - 405 / H, 1 - 10 / H), (1 - 809 / H, 1 - 415 / H),
        (1 - 1215 / H, 1 - 820.5 / H), (1 - 1620 / H, 1 - 1225 / H)]
POS = {"a": (0, 0), "b": (1, 0), "c": (0, 1), "d": (1, 1), "e": (0, 2), "f": (1, 2), "g": (0, 3)}

TICKFONT = dict(family="DejaVu Sans", size=14.5, color="#222222")
LEGFONT = "Liberation Sans, Arial, sans-serif"
GREY_TXT = "#a8a8a8"

fig = go.Figure()
annotations = []
layout_axes = {}

for i, (key, name, color, y0, vals, mean, sig, base, signame) in enumerate(PANELS, start=1):
    for arr in (vals, mean, sig):
        assert len(arr) == 2020 - y0, (key, len(arr))
    col, row = POS[key]
    xa = "x" if i == 1 else f"x{i}"
    ya = "y" if i == 1 else f"y{i}"
    years = np.arange(y0, 2020) + 0.5
    v = np.array(vals)
    s = np.array(sig)
    m = np.array(mean)

    # 1-sigma band
    fig.add_trace(go.Scatter(
        x=np.concatenate([years, years[::-1]]),
        y=np.concatenate([v + s, (v - s)[::-1]]),
        fill="toself", fillcolor="#c9c9c9", line=dict(width=0),
        mode="lines", hoverinfo="skip", xaxis=xa, yaxis=ya))
    # 2-sigma dotted
    for sgn in (1, -1):
        fig.add_trace(go.Scatter(
            x=years, y=v + sgn * 2 * s, mode="lines",
            line=dict(color="#9a9a9a", width=1, dash="1px,3px"),
            xaxis=xa, yaxis=ya))
    # baseline period
    fig.add_trace(go.Scatter(
        x=[base[0] + 0.5, base[1] + 0.5], y=[0, 0], mode="lines",
        line=dict(color="#333333", width=1.3), xaxis=xa, yaxis=ya))
    # dataset
    fig.add_trace(go.Scatter(
        x=years, y=v, mode="lines", line=dict(color=color, width=1.4),
        xaxis=xa, yaxis=ya))
    # multi-record mean
    fig.add_trace(go.Scatter(
        x=years, y=m, mode="lines", line=dict(color="#111111", width=1.2),
        xaxis=xa, yaxis=ya))

    bottom = key in ("f", "g")
    layout_axes["xaxis" if i == 1 else f"xaxis{i}"] = dict(
        domain=list(COLS[col]), anchor=ya, range=[1850, 2020], automargin=False,
        showline=True, linecolor="#444444", linewidth=1, mirror="allticks",
        ticks="inside", ticklen=19, tickcolor="#bdbdbd", tickwidth=1,
        tick0=1850, dtick=50,
        minor=dict(ticks="inside", dtick=10, tick0=1850, ticklen=9.5,
                   tickcolor="#555555", tickwidth=1),
        showgrid=False, zeroline=False,
        showticklabels=bottom, tickfont=TICKFONT, ticklabelstandoff=7)
    layout_axes["yaxis" if i == 1 else f"yaxis{i}"] = dict(
        domain=list(ROWS[row]), anchor=xa, range=[-1.1, 1.1], automargin=False,
        showline=True, linecolor="#444444", linewidth=1, mirror="allticks",
        ticks="inside", ticklen=17, tickcolor="#777777", tickwidth=1,
        tick0=0, dtick=0.5, tickformat=".1f",
        minor=dict(ticks="inside", dtick=0.1, ticklen=8,
                   tickcolor="#666666", tickwidth=1),
        showgrid=False, zeroline=False,
        tickfont=TICKFONT, ticklabelstandoff=5)

    xd = f"{xa} domain"
    yd = f"{ya} domain"
    lx = 0.056
    legend_lines = [
        (f"Multi\u2212record Mean <span style='font-family:DejaVu Sans;"
         f"font-size:14px;letter-spacing:1.1px'>(Excluding {name})</span>", "#111111"),
        (name, color),
        (f"{signame} 1\u03c3 \u2014", GREY_TXT),
        (f"{signame} 2\u03c3 \u00b7\u00b7\u00b7\u00b7", GREY_TXT),
    ]
    for k, (txt, c) in enumerate(legend_lines):
        annotations.append(dict(
            text=txt, xref=xd, yref=yd, x=lx, y=1 - (31 + 17.8 * k) / 395,
            xanchor="left", yanchor="middle", showarrow=False,
            font=dict(family=LEGFONT, size=15.5, color=c)))
    # panel letter
    annotations.append(dict(
        text=f"({key})", xref=xd, yref=yd, x=0.91 if col == 0 else 0.928, y=0.084,
        xanchor="center", yanchor="middle", showarrow=False,
        font=dict(family="Open Sans", size=29, color="#111111")))
    # y title
    ytitle = f"\u0394T  (\u00b0C)  {base[0]}\u2212{base[1]}"
    annotations.append(dict(
        text=ytitle, xref="paper", yref="paper",
        x=(20 if col == 0 else 681) / W, y=(ROWS[row][0] + ROWS[row][1]) / 2,
        textangle=-90, xanchor="center", yanchor="middle", showarrow=False,
        font=dict(family="DejaVu Sans", size=15, color="#222222")))
    if bottom:
        cx = (COLS[col][0] + COLS[col][1]) / 2
        ypx = 1656 if key == "g" else 1252
        annotations.append(dict(
            text="Year", xref="paper", yref="paper", x=cx, y=1 - ypx / H,
            xanchor="center", yanchor="middle", showarrow=False,
            font=dict(family="DejaVu Sans", size=15, color="#222222")))

fig.update_layout(
    width=W, height=H, margin=dict(l=0, r=0, t=0, b=0),
    paper_bgcolor="white", plot_bgcolor="white", showlegend=False,
    annotations=annotations, **layout_axes)

fig.write_html("out.html")
